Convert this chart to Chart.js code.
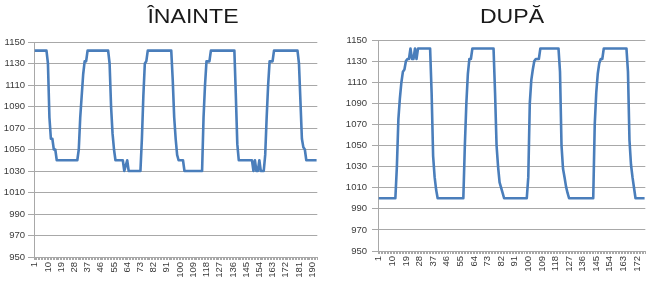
<!DOCTYPE html>
<html><head><meta charset="utf-8">
<script src="https://cdn.jsdelivr.net/npm/chart.js@4/dist/chart.umd.min.js"></script>
<style>
html,body{margin:0;padding:0;background:#fff;overflow:hidden}
#wrap{position:relative;width:658px;height:284px}
.box{position:absolute;top:0;height:284px}
</style></head><body>
<div id="wrap">
<div class="box" style="left:0;width:330px"><canvas id="c1"></canvas></div>
<div class="box" style="left:330px;width:328px"><canvas id="c2"></canvas></div>
</div>
<script>
const beforeTitle = 'ÎNAINTE';
const afterTitle = 'DUPĂ';

const beforeValues = [
1142,1142,1142,1142,1142,1142,1142,1142,1142,1130,1080,1060,1060,1050,1050,
1040,1040,1040,1040,1040,1040,1040,1040,1040,1040,1040,1040,1040,1040,1040,
1050,1080,1100,1120,1132,1132,
1142,1142,1142,1142,1142,1142,1142,1142,1142,1142,1142,1142,1142,1142,1142,
1130,1090,1065,1050,
1040,1040,1040,1040,1040,1040,
1030,1035,1040,
1030,1030,1030,1030,1030,1030,1030,1030,1030,
1060,1100,1130,1132,
1142,1142,1142,1142,1142,1142,1142,1142,1142,1142,1142,1142,1142,1142,1142,1142,1142,
1115,1080,1060,1045,
1040,1040,1040,1040,
1030,1030,1030,1030,1030,1030,1030,1030,1030,1030,1030,1030,1030,
1080,1110,1132,1132,1132,
1142,1142,1142,1142,1142,1142,1142,1142,1142,1142,1142,1142,1142,1142,1142,1142,1142,
1100,1055,
1040,1040,1040,1040,1040,1040,1040,1040,1040,1040,
1030,1040,1030,1030,1040,1030,1030,1030,1045,1080,1110,1132,1132,1132,
1142,1142,1142,1142,1142,1142,1142,1142,1142,1142,1142,1142,1142,1142,1142,1142,1142,
1130,1095,1060,1052,1050,
1040,1040,1040,1040,1040,1040,1040,1040
];

const afterValues = [
1000,1000,1000,1000,1000,1000,1000,1000,1000,1000,1000,1000,
1030,1075,1095,1110,1120,1122,1130,1132,1132,1142,1132,1132,1142,1132,
1142,1142,1142,1142,1142,1142,1142,1142,1142,
1100,1040,1020,1008,
1000,1000,1000,1000,1000,1000,1000,1000,1000,1000,1000,1000,1000,1000,1000,1000,1000,1000,
1050,1090,1118,1132,1132,
1142,1142,1142,1142,1142,1142,1142,1142,1142,1142,1142,1142,1142,1142,1142,
1100,1050,1030,1015,1010,1005,
1000,1000,1000,1000,1000,1000,1000,1000,1000,1000,1000,1000,1000,1000,1000,1000,
1020,1090,1112,1122,1130,1132,1132,1132,
1142,1142,1142,1142,1142,1142,1142,1142,1142,1142,1142,1142,1142,
1120,1050,1028,1020,1011,1005,
1000,1000,1000,1000,1000,1000,1000,1000,1000,1000,1000,1000,1000,1000,1000,1000,1000,
1070,1100,1118,1128,1132,1132,
1142,1142,1142,1142,1142,1142,1142,1142,1142,1142,1142,1142,1142,1142,1142,1142,
1120,1055,1032,1020,1010,
1000,1000,1000,1000,1000,1000,1000
];

// categories: sample numbers 1..N
const beforeCategories = beforeValues.map((_, i) => String(i + 1));
const afterCategories = afterValues.map((_, i) => String(i + 1));

const yMin = 950, yMax = 1150, yStep = 20;
const labelEvery = 9;

const FONT = "'Liberation Sans', Arial, sans-serif";
const GRID = '#a8a8a8';
const LINE = '#4a7ebb';
const TEXT = '#3a3a3a';

const panelTitle = {
  id: 'panelTitle',
  afterDraw(chart, args, opts) {
    const ctx = chart.ctx;
    ctx.save();
    ctx.font = opts.size + 'px ' + FONT;
    ctx.fillStyle = '#1a1a1a';
    ctx.textAlign = 'center';
    ctx.textBaseline = 'alphabetic';
    ctx.translate(opts.x, opts.y);
    ctx.scale(opts.sx, 1);
    ctx.fillText(opts.text, 0, 0);
    ctx.restore();
  }
};

function makeChart(id, title, cats, vals, g) {
  return new Chart(document.getElementById(id), {
    type: 'line',
    data: {
      labels: cats,
      datasets: [{
        data: vals,
        borderColor: LINE,
        borderWidth: 2.6,
        pointRadius: 0,
        tension: 0,
        fill: false,
        borderJoinStyle: 'round'
      }]
    },
    options: {
      responsive: true,
      maintainAspectRatio: false,
      animation: false,
      events: [],
      layout: { padding: { top: g.top, right: g.right, left: 0, bottom: 0 } },
      plugins: {
        legend: { display: false },
        tooltip: { enabled: false },
        title: { display: false },
        panelTitle: { text: title, x: g.titleX, y: 23, size: 21, sx: 1.1 }
      },
      scales: {
        x: {
          type: 'category',
          offset: true,
          grid: { display: true, drawOnChartArea: false, drawTicks: true, tickLength: 3, color: GRID, offset: true },
          border: { display: true, color: GRID },
          ticks: {
            autoSkip: false, minRotation: 90, maxRotation: 90, padding: 2,
            color: TEXT, font: { family: FONT, size: 9.5 },
            callback: function (v, i) { return i % labelEvery === 0 ? this.getLabelForValue(v) : ''; }
          },
          afterFit: s => { s.height = g.xh; }
        },
        y: {
          min: yMin, max: yMax,
          grid: { color: GRID, lineWidth: 1, tickLength: 6, drawTicks: true },
          border: { display: true, color: GRID },
          ticks: {
            stepSize: yStep, padding: g.ypad, color: TEXT, font: { family: FONT, size: 9.5 },
            callback: v => String(v)
          },
          afterFit: s => { s.width = g.yw; }
        }
      }
    },
    plugins: [panelTitle]
  });
}

makeChart('c1', beforeTitle, beforeCategories, beforeValues,
  { top: 42, right: 8, xh: 27, yw: 34, ypad: 3, titleX: 193 });
makeChart('c2', afterTitle, afterCategories, afterValues,
  { top: 40, right: 7, xh: 33, yw: 48, ypad: 5, titleX: 182 });
</script>
</body></html>
